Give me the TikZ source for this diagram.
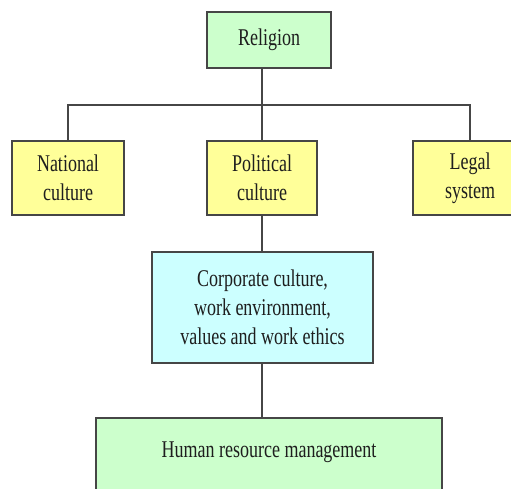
\documentclass[tikz,border=0pt]{standalone}
\usepackage{fontspec}
\setmainfont{Liberation Serif}[FakeStretch=0.75]
\definecolor{grn}{RGB}{204,255,204}
\definecolor{yel}{RGB}{255,255,153}
\definecolor{cyn}{RGB}{204,255,255}
\definecolor{boxline}{RGB}{70,70,70}
\definecolor{textc}{RGB}{30,30,30}
\tikzset{
  box/.style={draw=boxline, line width=1.5pt, inner sep=0pt, align=center,
    font=\fontsize{24}{29}\selectfont, text=textc},
  conn/.style={draw=boxline, line width=1.8pt}
}
\begin{document}
\begin{tikzpicture}[x=1pt,y=-1pt]
\clip (0,0) rectangle (511,489);
\fill[white] (0,0) rectangle (511,489);
\node[box, fill=grn, minimum width=124pt, minimum height=56pt] (rel) at (269,40) {Religion};
\node[box, fill=yel, minimum width=112pt, minimum height=74pt] (nat) at (68,178) {National\\culture};
\node[box, fill=yel, minimum width=110pt, minimum height=74pt] (pol) at (262,178) {Political\\culture};
\node[box, fill=yel, minimum width=114pt, minimum height=74pt] (leg) at (470,178) {Legal\\system};
\node[box, fill=cyn, minimum width=221pt, minimum height=111pt] (corp) at (262.5,307.5) {Corporate culture,\\work environment,\\values and work ethics};
\node[box, fill=grn, minimum width=346pt, minimum height=78pt] (hrm) at (269,457) {};
\node[font=\fontsize{24}{29}\selectfont, text=textc, inner sep=0pt] (hrmt) at (269,452) {Human resource management};
\coordinate (bl) at (68,105);
\coordinate (br) at (470,105);
\draw[conn] (nat.north) -- (nat.north |- bl) -- (leg.north |- br) -- (leg.north);
\draw[conn] (rel.south -| pol.north) -- (pol.north);
\draw[conn] (pol.south) -- (corp.north -| pol.south);
\draw[conn] (corp.south -| pol.south) -- (hrm.north -| pol.south);
\end{tikzpicture}
\end{document}
